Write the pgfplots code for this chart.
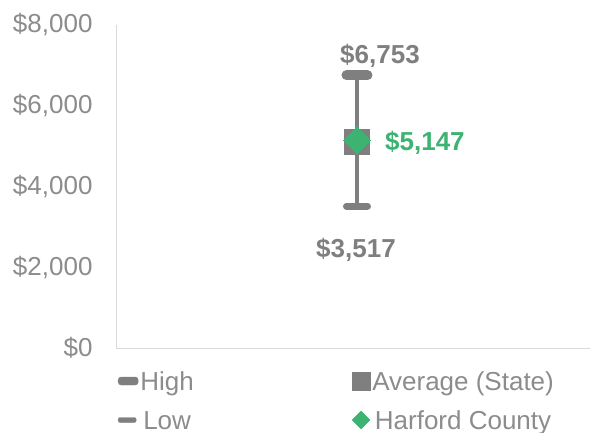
\documentclass[border=0pt]{standalone}
\usepackage{pgfplots}
\pgfplotsset{compat=1.18}
\usepackage{fontspec}
\setmainfont{Liberation Sans}
\definecolor{mgray}{HTML}{7F7F7F}
\definecolor{tgray}{HTML}{8C8C8C}
\definecolor{lgray}{HTML}{D9D9D9}
\definecolor{mgreen}{HTML}{3CB371}
\newcommand\fs{\fontsize{26bp}{30bp}\selectfont}
\begin{document}
\begin{tikzpicture}
\useasboundingbox (0,0) rectangle (590bp,433bp);
\begin{axis}[
  at={(116bp,85bp)}, anchor=south west,
  scale only axis, width=474bp, height=323bp,
  xmin=0, xmax=1.967, ymin=0, ymax=8000,
  axis x line*=bottom, axis y line*=left,
  axis line style={lgray, line width=1bp, -},
  xtick=\empty,
  ytick={0,2000,4000,6000,8000},
  major tick length=0pt,
  scaled y ticks=false,
  yticklabel={\$\pgfmathprintnumber{\tick}},
  /pgf/number format/1000 sep={,},
  /pgf/number format/assume math mode=true,
  tick label style={font=\fs, text=tgray},
  yticklabel style={xshift=-20bp},
  clip=false,
  legend columns=2,
  legend style={at={(rel axis cs:0,0)}, anchor=north west, yshift=-23.5bp, xshift=2bp,
    draw=none, fill=none, inner sep=0pt, outer sep=0pt, font=\fs, text=tgray,
    nodes={inner sep=0pt, text height=19bp, text depth=6bp},
    row sep=14bp,
    /tikz/every odd column/.style={column sep=2bp},
    /tikz/column 2/.style={column sep=158bp}},
]
\addplot[mgray, line width=4.5bp, forget plot] coordinates {(1,3517) (1,6753)};
\addplot[only marks, mark=-, mark size=10.5bp, mark options={line width=10bp, line cap=round, mgray}, forget plot] coordinates {(1,6753)};
\addplot[only marks, mark=-, mark size=10.5bp, mark options={line width=7bp, line cap=round, mgray}, forget plot] coordinates {(1,3517)};
\addplot[only marks, mark=square*, mark size=12.5bp, mark options={fill=mgray, draw=mgray, line width=0pt}, forget plot] coordinates {(1,5100)};
\addplot[only marks, mark=square*, mark size=9.5bp, mark options={rotate=45, fill=mgreen, draw=mgreen, line width=0pt}, forget plot] coordinates {(1,5147)};
\node[font=\fs\bfseries, text=mgray, anchor=base, inner sep=0pt] at (axis cs:1,6753) [xshift=23bp, yshift=12bp] {\$6,753};
\node[font=\fs\bfseries, text=mgray, anchor=base, inner sep=0pt] at (axis cs:1,3517) [xshift=-1bp, yshift=-51bp] {\$3,517};
\node[font=\fs\bfseries, text=mgreen, anchor=base west, inner sep=0pt] at (axis cs:1,5147) [xshift=28bp, yshift=-10bp] {\$5,147};
\addlegendimage{legend image code/.code={\fill[mgray, rounded corners=3bp] (0bp,-1bp) rectangle (20bp,7bp);}}
\addlegendentry{High}
\addlegendimage{legend image code/.code={\fill[mgray] (0bp,-6bp) rectangle (18bp,12bp);}}
\addlegendentry{Average (State)}
\addlegendimage{legend image code/.code={\fill[mgray, rounded corners=2bp] (0bp,0.5bp) rectangle (18bp,5.5bp);}}
\addlegendentry{Low}
\addlegendimage{legend image code/.code={\fill[mgreen] (0bp,3bp) -- (9bp,12bp) -- (18bp,3bp) -- (9bp,-6bp) -- cycle;}}
\addlegendentry{Harford County}
\end{axis}
\end{tikzpicture}
\end{document}
